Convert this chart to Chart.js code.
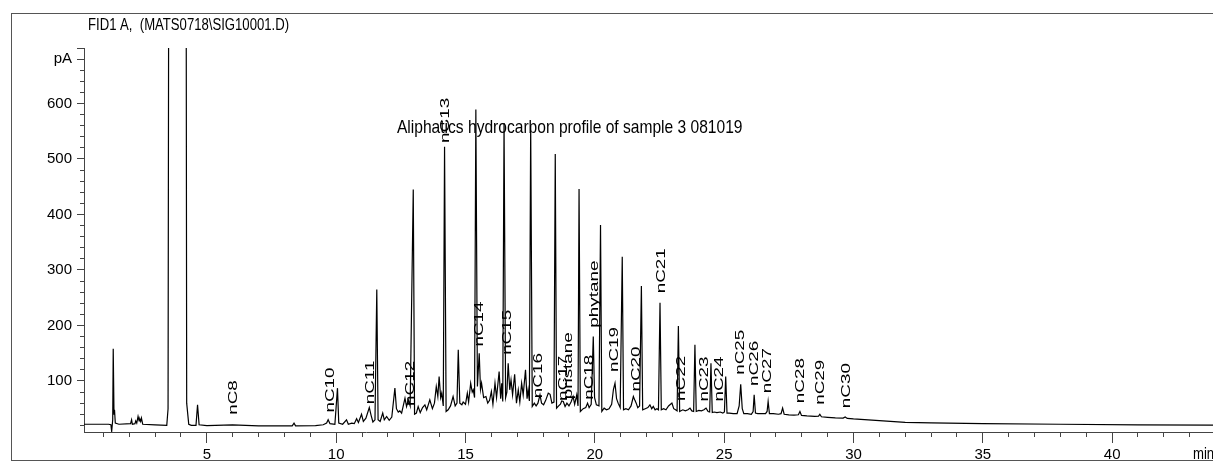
<!DOCTYPE html>
<html>
<head>
<meta charset="utf-8">
<script src="https://cdn.jsdelivr.net/npm/chart.js@4.4.1/dist/chart.umd.min.js"></script>
<style>
  html, body { margin: 0; padding: 0; background: #fff; }
  #wrap { position: relative; width: 1213px; height: 463px; }
</style>
</head>
<body>
<div id="wrap"><canvas id="fid"></canvas></div>
<script>
// retention time (min) and FID signal (pA)
var rt = [
    0.25, 1.20, 1.29, 1.32, 1.36, 1.38, 1.41, 1.43, 1.46, 1.60, 2.05, 2.09, 2.12, 2.22, 2.25, 2.29,
    2.34, 2.38, 2.41, 2.44, 2.47, 2.52, 3.00, 3.45, 3.50, 3.56, 4.17, 4.22, 4.30, 4.40, 4.58, 4.64, 4.70,
    5.00, 5.99, 7.00, 8.30, 8.37, 8.43, 9.20, 9.50, 9.63, 9.69, 9.76, 9.95, 10.05, 10.10, 10.25, 10.40,
    10.47, 10.60, 10.70, 10.79, 10.86, 10.98, 11.05, 11.15, 11.28, 11.35, 11.42, 11.50, 11.57, 11.62,
    11.70, 11.80, 11.86, 11.95, 12.05, 12.15, 12.27, 12.33, 12.40, 12.46, 12.53, 12.66, 12.72, 12.79,
    12.86, 12.98, 13.03, 13.10, 13.17, 13.25, 13.34, 13.43, 13.50, 13.62, 13.72, 13.80, 13.87, 13.93,
    13.98, 14.04, 14.08, 14.14, 14.19, 14.25, 14.33, 14.42, 14.52, 14.60, 14.67, 14.72, 14.78, 14.86,
    14.91, 15.00, 15.07, 15.12, 15.20, 15.26, 15.30, 15.35, 15.40, 15.46, 15.53, 15.58, 15.62, 15.70,
    15.79, 15.86, 15.93, 16.00, 16.06, 16.14, 16.20, 16.30, 16.36, 16.40, 16.44, 16.49, 16.55, 16.60,
    16.65, 16.71, 16.76, 16.82, 16.90, 16.97, 17.04, 17.10, 17.17, 17.23, 17.32, 17.38, 17.42, 17.47,
    17.52, 17.58, 17.66, 17.73, 17.80, 17.88, 17.94, 18.02, 18.10, 18.20, 18.27, 18.34, 18.42, 18.47,
    18.52, 18.60, 18.67, 18.72, 18.78, 18.85, 18.92, 19.00, 19.08, 19.16, 19.22, 19.30, 19.35, 19.39,
    19.44, 19.55, 19.65, 19.72, 19.78, 19.86, 19.94, 19.99, 20.06, 20.16, 20.22, 20.27, 20.36, 20.45,
    20.55, 20.65, 20.72, 20.78, 20.84, 20.90, 20.98, 21.06, 21.11, 21.20, 21.30, 21.40, 21.49, 21.55,
    21.60, 21.66, 21.73, 21.80, 21.85, 21.95, 22.05, 22.13, 22.20, 22.26, 22.33, 22.40, 22.46, 22.52,
    22.57, 22.66, 22.75, 22.85, 22.98, 23.05, 23.12, 23.18, 23.23, 23.28, 23.40, 23.50, 23.60, 23.68,
    23.75, 23.82, 23.87, 23.92, 24.02, 24.12, 24.22, 24.30, 24.38, 24.44, 24.49, 24.54, 24.62, 24.72,
    24.85, 24.95, 25.01, 25.06, 25.11, 25.20, 25.35, 25.50, 25.58, 25.64, 25.70, 25.76, 25.90, 26.05,
    26.12, 26.16, 26.21, 26.30, 26.45, 26.60, 26.66, 26.70, 26.75, 26.90, 27.10, 27.20, 27.26, 27.32,
    27.50, 27.70, 27.87, 27.93, 27.99, 28.20, 28.50, 28.65, 28.70, 28.76, 29.00, 29.30, 29.60, 29.68,
    29.76, 30.00, 31.00, 32.00, 33.00, 35.00, 38.00, 41.00, 43.90
];
var signal = [
    22, 22, 21, 9, 30, 158, 40, 48, 24, 22, 23, 30, 22, 23, 28, 24,
    36, 28, 31, 27, 33, 22, 21, 20, 50, 2000, 2000, 60, 22, 20, 20, 57, 21,
    19.5, 21, 19, 19, 24, 19, 19.5, 21, 24, 30, 23, 22, 87, 24, 22, 30,
    22, 24, 23, 32, 25, 40, 27, 33, 52, 38, 26, 30, 265, 30,
    27, 42, 30, 36, 29, 35, 87, 50, 44, 46, 42, 69, 54, 66,
    55, 445, 40, 42, 54, 43, 52, 57, 48, 66, 50, 60, 90, 72,
    108, 70, 78, 55, 522, 45, 48, 55, 72, 55, 60, 156, 60, 57,
    62, 58, 78, 62, 96, 80, 84, 70, 589, 90, 150, 85, 96, 70,
    72, 60, 65, 81, 58, 96, 70, 117, 68, 96, 63, 565, 70, 80,
    132, 84, 102, 75, 112, 60, 84, 62, 96, 75, 120, 68, 84, 64,
    560, 54, 60, 55, 60, 75, 60, 57, 65, 78, 76, 60, 62, 509,
    51, 55, 58, 64, 63, 54, 60, 55, 62, 72, 58, 75, 55, 446,
    45, 50, 52, 60, 52, 58, 180, 70, 57, 55, 381, 45, 51, 48,
    50, 58, 85, 96, 68, 60, 52, 324, 48, 50, 48, 55, 72, 65,
    60, 52, 55, 271, 48, 50, 52, 57, 50, 54, 48, 50, 48, 241,
    48, 50, 48, 55, 60, 50, 48, 46, 199, 45, 48, 46, 48, 51,
    46, 45, 165, 45, 47, 46, 48, 51, 45, 44, 132, 43, 44, 43,
    44, 42, 44, 108, 42, 42, 41, 41, 55, 94, 50, 41, 41, 40,
    45, 75, 42, 41, 41, 41, 45, 63, 41, 41, 40, 41, 51, 40,
    39, 38.5, 39, 45, 38, 37, 36, 36.5, 40, 35.5, 34.5, 33.5, 33, 35,
    32.5, 31.5, 28.5, 25.5, 24.5, 23, 22, 21, 20.5
];

// peak names, their retention times and the level (pA) where each label starts
var peakNames = ['nC8', 'nC10', 'nC11', 'nC12', 'nC13', 'nC14', 'nC15', 'nC16', 'nC17', 'pristane', 'nC18', 'phytane',
    'nC19', 'nC20', 'nC21', 'nC22', 'nC23', 'nC24', 'nC25', 'nC26', 'nC27', 'nC28', 'nC29', 'nC30'];
var peakTimes = [5.99, 9.76, 11.30, 12.84, 14.20, 15.52, 16.60, 17.78, 18.75, 18.94, 19.77, 19.94,
    20.74, 21.59, 22.52, 23.33, 24.19, 24.80, 25.61, 26.13, 26.65, 27.93, 28.70, 29.68];
var peakLevels = [39, 43, 58, 55, 529, 162, 147, 69, 64, 67, 66, 196,
    116, 81, 258, 64, 63, 63, 111, 91, 78, 60, 57, 51];

var timeRange = [0.25, 43.9];
var signalRange = [8, 700];

var sans = "'Liberation Sans', Arial, sans-serif";
var axisColor = '#444';

var points = rt.map(function (t, i) { return { x: t, y: signal[i] }; });

function isMajorY(v) { return v % 100 === 0 || v === 680; }
function align(p) { return Math.round(p - 0.5) + 0.5; }

// condensed text, like the instrument's narrow font
function narrowText(c, text, x, y, size) {
    c.save();
    c.font = size + 'px ' + sans;
    c.translate(x, y);
    c.scale(0.82, 1);
    c.fillText(text, 0, 0);
    c.restore();
}

var decor = {
    id: 'decor',
    beforeDraw: function (chart) {
        var c = chart.ctx;
        c.save();
        c.fillStyle = '#fff';
        c.fillRect(0, 0, chart.width, chart.height);
        c.strokeStyle = '#555';
        c.lineWidth = 1;
        c.strokeRect(11.5, 13.5, chart.width + 20, 447);
        c.fillStyle = '#000';
        c.textBaseline = 'middle';
        narrowText(c, 'FID1 A,  (MATS0718\\SIG10001.D)', 88, 26, 16);
        c.restore();
    },
    afterDraw: function (chart) {
        var c = chart.ctx, xs = chart.scales.x, ys = chart.scales.y;
        c.save();
        // longer marks on the labelled ticks
        c.strokeStyle = axisColor;
        c.lineWidth = 1;
        c.beginPath();
        ys.ticks.forEach(function (t) {
            if (isMajorY(t.value)) {
                var py = align(ys.getPixelForValue(t.value));
                c.moveTo(ys.right - 7, py);
                c.lineTo(ys.right - 4, py);
            }
        });
        xs.ticks.forEach(function (t) {
            if (t.value % 5 === 0) {
                var px = align(xs.getPixelForValue(t.value));
                c.moveTo(px, xs.top + 5);
                c.lineTo(px, xs.top + 11);
            }
        });
        c.stroke();

        c.fillStyle = '#000';
        c.textBaseline = 'middle';
        c.textAlign = 'left';
        narrowText(c, 'min', xs.right - 20, xs.top + 5 + 9 + 9, 16);
        narrowText(c, 'Aliphatics hydrocarbon profile of sample 3 081019',
            xs.getPixelForValue(12.35), ys.getPixelForValue(556), 19);

        c.font = '13px ' + sans;
        c.textBaseline = 'alphabetic';
        peakNames.forEach(function (name, i) {
            c.save();
            c.translate(xs.getPixelForValue(peakTimes[i]), ys.getPixelForValue(peakLevels[i]));
            c.rotate(-Math.PI / 2);
            c.scale(1.45, 1);
            c.fillText(name, 0, 4.5);
            c.restore();
        });
        c.restore();
    }
};

new Chart(document.getElementById('fid'), {
    type: 'line',
    data: {
        datasets: [{
            data: points,
            borderColor: '#000',
            borderWidth: 1.2,
            pointRadius: 0,
            tension: 0,
            fill: false
        }]
    },
    options: {
        responsive: true,
        maintainAspectRatio: false,
        animation: false,
        events: [],
        layout: { padding: { top: 48, left: 0, right: 0, bottom: 0 } },
        plugins: {
            legend: { display: false },
            tooltip: { enabled: false }
        },
        scales: {
            x: {
                type: 'linear',
                min: timeRange[0],
                max: timeRange[1],
                border: { color: axisColor, width: 1 },
                grid: { drawOnChartArea: false, tickLength: 5, color: axisColor },
                ticks: {
                    stepSize: 1,
                    includeBounds: false,
                    autoSkip: false,
                    maxRotation: 0,
                    padding: 9,
                    color: '#000',
                    font: { family: sans, size: 15 },
                    callback: function (v) { return v % 5 === 0 ? String(v) : ''; }
                },
                afterFit: function (s) { s.height = 31; }
            },
            y: {
                min: signalRange[0],
                max: signalRange[1],
                border: { color: axisColor, width: 1 },
                grid: { drawOnChartArea: false, tickLength: 4, color: axisColor },
                ticks: {
                    stepSize: 20,
                    includeBounds: false,
                    autoSkip: false,
                    padding: 8,
                    color: '#000',
                    font: { family: sans, size: 15 },
                    callback: function (v) {
                        if (v === 680) return 'pA';
                        return (v % 100 === 0 && v < 700) ? String(v) : '';
                    }
                },
                afterFit: function (s) { s.width = 84; }
            }
        }
    },
    plugins: [decor]
});
</script>
</body>
</html>
